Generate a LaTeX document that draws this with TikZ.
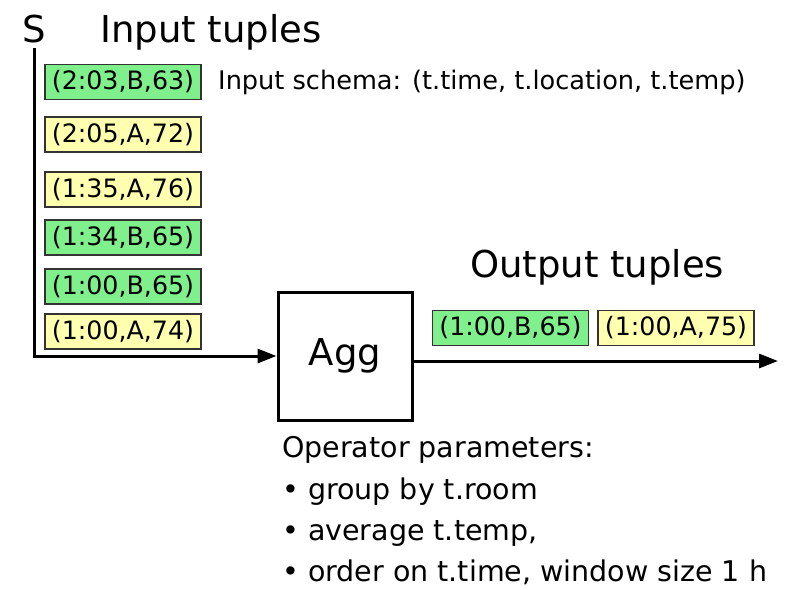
\documentclass[tikz,border=0pt]{standalone}
\usepackage{fontspec}
\setmainfont{DejaVu Sans}
\usetikzlibrary{arrows.meta}
\definecolor{tgreen}{RGB}{128,240,140}
\definecolor{tyellow}{RGB}{255,255,176}
\begin{document}
\begin{tikzpicture}[x=1pt,y=-1pt,
  tup/.style={draw=black!80, line width=1.4pt, inner sep=0pt, minimum width=156pt, minimum height=35pt, font=\fontsize{25.3}{28}\selectfont},
  gtup/.style={tup, fill=tgreen},
  ytup/.style={tup, fill=tyellow},
  big/.style={font=\fontsize{37}{42}\selectfont, inner sep=0pt},
  par/.style={font=\fontsize{28.5}{32}\selectfont, inner sep=0pt, anchor=base west},
  wire/.style={line width=3pt, -{Triangle[length=19pt,width=14pt]}}
]
\useasboundingbox (0,0) rectangle (808,589);
\node[big, anchor=base] (S) at (34,42) {S};
\node[big, anchor=base west] (intitle) at (100,42) {Input tuples};
\node[gtup] (t1) at (123,82) {(2:03,B,63)};
\node[ytup] (t2) at (123,134.5) {(2:05,A,72)};
\node[ytup] (t3) at (123,189.5) {(1:35,A,76)};
\node[gtup] (t4) at (123,237.5) {(1:34,B,65)};
\node[gtup] (t5) at (123,286.5) {(1:00,B,65)};
\node[ytup] (t6) at (123,331.5) {(1:00,A,74)};
\node[font=\fontsize{25.6}{28}\selectfont, inner sep=0pt, anchor=west] (schema) at (218,82) {Input schema: (t.time, t.location, t.temp)};
\node[draw, line width=3pt, minimum width=134pt, minimum height=128pt, inner sep=0pt, font=\fontsize{37}{42}\selectfont] (agg) at (345,356) {Agg};
\coordinate (top) at (34,48);
\coordinate (corner) at (34,356);
\coordinate (outend) at (778,361);
\draw[wire] (top) -- (corner) -- (agg.west);
\draw[wire] (agg.east |- outend) -- (outend);
\node[big, anchor=base west] (outtitle) at (470,277) {Output tuples};
\node[gtup] (o1) at (510.5,328) {(1:00,B,65)};
\node[ytup] (o2) at (676,328) {(1:00,A,75)};
\node[par] (p0) at (282,457) {Operator parameters:};
\node[par] (p1) at (282,499) {• group by t.room};
\node[par] (p2) at (282,540) {• average t.temp,};
\node[par] (p3) at (282,581) {• order on t.time, window size 1 h};
\end{tikzpicture}
\end{document}
